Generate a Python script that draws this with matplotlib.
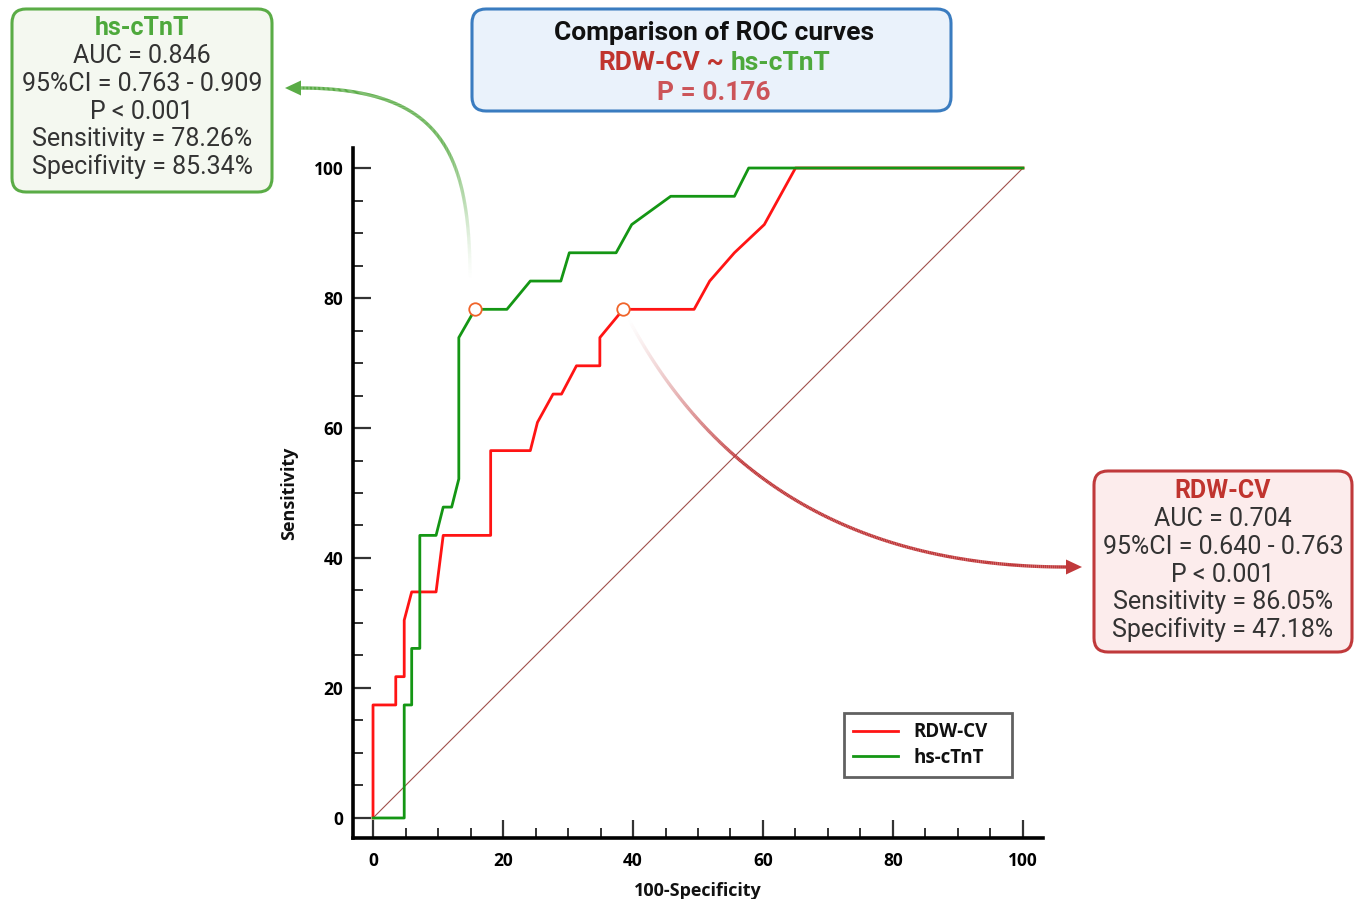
import numpy as np
import matplotlib
matplotlib.use('Agg')
import matplotlib.pyplot as plt
from matplotlib.patches import FancyBboxPatch, Polygon
from matplotlib.collections import LineCollection
from matplotlib.ticker import MultipleLocator
from matplotlib.colors import to_rgba

W, H, DPI = 1356, 899, 100

# ---------------- data ----------------
series_names = ['RDW-CV', 'hs-cTnT']
rdw_fpr = [0, 0, 3.5, 3.5, 4.8, 4.8, 5.95, 9.7, 10.8, 18.1, 18.1, 24.2, 25.3, 27.7, 29.0,
           31.3, 34.9, 34.9, 38.5, 49.4, 51.8, 55.6, 60.2, 65.0, 100]
rdw_tpr = [0, 17.39, 17.39, 21.74, 21.74, 30.43, 34.78, 34.78, 43.48, 43.48, 56.52, 56.52,
           60.87, 65.22, 65.22, 69.57, 69.57, 73.91, 78.26, 78.26, 82.61, 86.96, 91.30, 100, 100]
tnt_fpr = [0, 4.8, 4.8, 5.95, 5.95, 7.2, 7.2, 9.7, 10.8, 12.1, 13.2, 13.2, 15.7, 20.6, 24.2,
           28.9, 30.2, 37.4, 39.8, 45.8, 55.6, 57.8, 100]
tnt_tpr = [0, 0, 17.39, 17.39, 26.09, 26.09, 43.48, 43.48, 47.83, 47.83, 52.17, 73.91, 78.26,
           78.26, 82.61, 82.61, 86.96, 86.96, 91.30, 95.65, 95.65, 100, 100]
cut_rdw = (38.5, 78.26)
cut_tnt = (15.7, 78.26)
diag_x = [0, 100]
diag_y = [0, 100]
x_ticks = [0, 20, 40, 60, 80, 100]
y_ticks = [0, 20, 40, 60, 80, 100]
tnt_lines = ["AUC = 0.846", "95%CI = 0.763 - 0.909", "P < 0.001",
             "Sensitivity = 78.26%", "Specifivity = 85.34%"]
rdw_lines = ["AUC = 0.704", "95%CI = 0.640 - 0.763", "P < 0.001",
             "Sensitivity = 86.05%", "Specifivity = 47.18%"]
comp_title = "Comparison of ROC curves"
comp_p = "P = 0.176"

# ---------------- style ----------------
RED = '#ff1414'
GREEN = '#149614'
BOX_GREEN = '#5aac46'
TXT_GREEN = '#4ea93c'
BOX_RED = '#c0393b'
TXT_RED = '#c0342e'
P_RED = '#cc5458'
ORANGE = '#f0642a'
TXT = '#333333'
LBL_FONT = 'Open Sans'
BOX_FONT = 'Roboto'

fig = plt.figure(figsize=(W / DPI, H / DPI), dpi=DPI)


def px_rect(x0, y0, x1, y1):
    return [x0 / W, 1 - y1 / H, (x1 - x0) / W, (y1 - y0) / H]


ax = fig.add_axes(px_rect(353, 148, 1043, 838))
ax.plot(diag_x, diag_y, color='#a0504c', lw=0.8, zorder=2)
ax.plot(rdw_fpr, rdw_tpr, color=RED, lw=2.0, label=series_names[0], zorder=3)
ax.plot(tnt_fpr, tnt_tpr, color=GREEN, lw=2.0, label=series_names[1], zorder=3)
for pt in (cut_tnt, cut_rdw):
    ax.plot([pt[0]], [pt[1]], 'o', ms=9, mfc='white', mec=ORANGE, mew=1.3, zorder=4)

ax.set_xlim(-3.08, 103.08)
ax.set_ylim(-3.08, 103.08)
for s in ['top', 'right']:
    ax.spines[s].set_visible(False)
for s in ['left', 'bottom']:
    ax.spines[s].set_linewidth(2.6)
    ax.spines[s].set_color('black')
ax.set_xticks(x_ticks)
ax.set_yticks(y_ticks)
ax.xaxis.set_minor_locator(MultipleLocator(5))
ax.yaxis.set_minor_locator(MultipleLocator(5))
ax.tick_params(which='major', direction='in', length=13, width=1.6, color='#333333',
               labelsize=12.5, pad=7)
ax.tick_params(which='minor', direction='in', length=7, width=1.4, color='#333333')
ax.tick_params(axis='x', which='major', pad=10)
for lab in ax.get_xticklabels() + ax.get_yticklabels():
    lab.set_fontfamily(LBL_FONT)
    lab.set_fontweight('bold')
ax.set_xlabel('100-Specificity', fontfamily=LBL_FONT, fontweight='bold', fontsize=13,
              labelpad=9, color='#111111')
ax.set_ylabel('Sensitivity', fontfamily=LBL_FONT, fontweight='bold', fontsize=13,
              labelpad=11, color='#111111')

leg = ax.legend(loc='upper left', bbox_to_anchor=(0.7116, 0.0928, 0.2435, 0.0884),
                mode='expand', borderaxespad=0,
                frameon=True, fancybox=False, handlelength=2.4, handletextpad=0.8,
                borderpad=0.5, labelspacing=0.3,
                prop={'family': LBL_FONT, 'weight': 'bold', 'size': 13.5})
leg.get_frame().set_edgecolor('#3a3a3a')
leg.get_frame().set_linewidth(2.0)
for t in leg.get_texts():
    t.set_color('#111111')
for l in leg.get_lines():
    l.set_linewidth(2.0)

# ---------------- overlay in pixel coordinates ----------------
ov = fig.add_axes([0, 0, 1, 1])
ov.set_xlim(0, W)
ov.set_ylim(H, 0)
ov.axis('off')
ov.patch.set_alpha(0)


def d2p(x, y):
    d = ax.transData.transform((x, y))
    return ov.transData.inverted().transform(d)


def bezier(pts, n=300):
    t = np.linspace(0, 1, n)[:, None]
    pts = [np.asarray(p, float) for p in pts]
    if len(pts) == 3:
        return (1 - t) ** 2 * pts[0] + 2 * (1 - t) * t * pts[1] + t ** 2 * pts[2]
    return ((1 - t) ** 3 * pts[0] + 3 * (1 - t) ** 2 * t * pts[1]
            + 3 * (1 - t) * t ** 2 * pts[2] + t ** 3 * pts[3])


def fading_arrow(pts, color, tip, direction, fade=0.4):
    curve = bezier(pts)
    segs = np.stack([curve[:-1], curve[1:]], axis=1)
    tt = np.linspace(0, 1, len(segs))
    alpha = np.clip(tt / fade, 0, 1) ** 1.3
    base = np.array(to_rgba(color))
    cols = np.tile(base, (len(segs), 1))
    cols[:, 3] = alpha
    ov.add_collection(LineCollection(segs, colors=cols, linewidths=2.4, capstyle='butt', zorder=5))
    tx, ty = tip
    L, hw = 16, 7.5
    if direction == 'left':
        tri = [(tx, ty), (tx + L, ty - hw), (tx + L, ty + hw)]
    else:
        tri = [(tx, ty), (tx - L, ty - hw), (tx - L, ty + hw)]
    ov.add_patch(Polygon(tri, closed=True, color=color, zorder=6, lw=0))


gx, gy = d2p(*cut_tnt)
fading_arrow([(gx - 5, gy - 29), (gx - 5, 150), (440, 88), (300, 88)], BOX_GREEN,
             (285, 88), 'left', fade=0.45)
rx, ry = d2p(*cut_rdw)
fading_arrow([(rx + 5, ry + 9), (760, 567), (1067, 567)], BOX_RED, (1082, 567), 'right', fade=0.35)


def box(x0, y0, x1, y1, edge, face):
    ov.add_patch(FancyBboxPatch((x0, y0), x1 - x0, y1 - y0,
                                boxstyle='round,pad=0,rounding_size=14',
                                fc=face, ec=edge, lw=2.2, zorder=4))


# green box
box(12, 9, 272, 192, BOX_GREEN, '#f4f8f0')
ov.text(142, 35, 'hs-cTnT', ha='center', va='baseline', fontsize=18, fontweight='bold',
        family=BOX_FONT, color=TXT_GREEN, zorder=7)
for i, s in enumerate(tnt_lines):
    ov.text(142, 63.3 + 27.7 * i, s, ha='center', va='baseline', fontsize=18,
            family=BOX_FONT, color=TXT, zorder=7)

# red box
box(1094, 471, 1352, 652, BOX_RED, '#fcecec')
ov.text(1223, 498.3, 'RDW-CV', ha='center', va='baseline', fontsize=18, fontweight='bold',
        family=BOX_FONT, color=TXT_RED, zorder=7)
for i, s in enumerate(rdw_lines):
    ov.text(1223, 526.3 + 27.7 * i, s, ha='center', va='baseline', fontsize=18,
            family=BOX_FONT, color=TXT, zorder=7)

# top comparison box
TFS = 19
box(472, 9, 951, 111, '#3a7cc0', '#eaf2fb')
ov.text(714, 40, comp_title, ha='center', va='baseline', fontsize=TFS, fontweight='bold',
        family=BOX_FONT, color='#111111', zorder=7)
renderer = fig.canvas.get_renderer()
parts = [(series_names[0], TXT_RED), (' ~ ', TXT_RED), (series_names[1], TXT_GREEN)]
widths = []
for s, c in parts:
    t = ov.text(0, 0, s.replace(' ', '\u00a0'), fontsize=TFS, fontweight='bold', family=BOX_FONT)
    widths.append(t.get_window_extent(renderer).width)
    t.remove()
total = sum(widths)
xcur = 714 - total / 2
for (s, c), w in zip(parts, widths):
    ov.text(xcur, 70, s, ha='left', va='baseline', fontsize=TFS, fontweight='bold',
            family=BOX_FONT, color=c, zorder=7)
    xcur += w
ov.text(714, 100, comp_p, ha='center', va='baseline', fontsize=TFS, fontweight='bold',
        family=BOX_FONT, color=P_RED, zorder=7)

fig.savefig('out.png', dpi=DPI)
